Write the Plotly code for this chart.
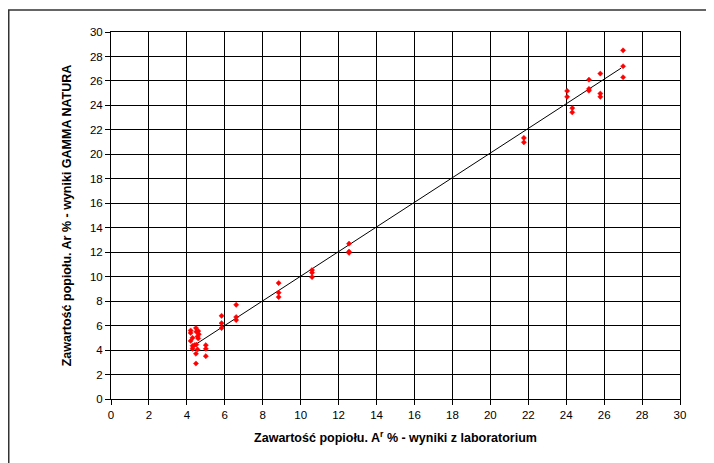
import plotly.graph_objects as go

# Laboratory results (x) vs GAMMA NATURA results (y)
lab_x = [4.2, 4.2, 4.48, 4.5, 4.6, 4.63, 4.56, 4.3, 4.2, 4.6, 4.4, 4.3, 4.5,
         5.0, 5.0, 4.3, 4.56, 4.48, 5.0, 4.48,
         5.83, 5.83, 5.83, 6.6, 6.6, 6.6,
         8.84, 8.84, 8.84, 10.6, 10.6, 10.6, 12.55, 12.55, 12.55,
         21.77, 21.77, 24.05, 24.05, 24.32, 24.32,
         25.2, 25.2, 25.2, 25.8, 25.8, 25.8, 27.0, 27.0, 27.0]
gamma_y = [5.6, 5.4, 5.8, 5.5, 5.55, 5.3, 5.1, 5.0, 4.75, 4.95, 4.4, 4.35, 4.45,
           4.4, 4.1, 4.1, 4.05, 3.7, 3.5, 2.9,
           6.8, 6.2, 5.8, 7.7, 6.7, 6.45,
           9.48, 8.69, 8.33, 10.54, 10.33, 9.97, 12.7, 12.05, 11.95,
           21.34, 20.98, 25.18, 24.7, 23.78, 23.43,
           26.1, 25.35, 25.2, 26.6, 24.97, 24.7, 28.5, 27.2, 26.3]

trend_x = [4.2, 26.9]
trend_y = [4.2, 27.05]

ticks = list(range(0, 31, 2))

fig = go.Figure()
fig.add_trace(go.Scatter(x=trend_x, y=trend_y, mode="lines",
                         line=dict(color="black", width=1), showlegend=False,
                         hoverinfo="skip"))
fig.add_trace(go.Scatter(x=lab_x, y=gamma_y, mode="markers",
                         marker=dict(symbol="diamond", size=4, color="#ff0000",
                                     line=dict(width=0.5, color="#ff0000")),
                         showlegend=False))

axis_common = dict(
    range=[0, 30], tickvals=ticks, ticktext=[str(t) for t in ticks],
    showgrid=True, gridcolor="black", gridwidth=1,
    showline=True, linecolor="black", linewidth=1, mirror=True,
    ticks="outside", ticklen=5, tickcolor="black", tickwidth=1,
    zeroline=False, tickfont=dict(family="Liberation Sans, Arial", size=11.5, color="black"),
)

L, T, W, H = 103, 24, 569, 367

fig.update_layout(
    width=714, height=463,
    margin=dict(l=L, r=714 - L - W, t=T, b=463 - T - H),
    paper_bgcolor="white", plot_bgcolor="white",
    font=dict(family="Liberation Sans, Arial", color="black"),
    xaxis=dict(**axis_common,
               title=dict(text="<b>Zawartość popiołu. A<sup>r</sup> % - wyniki z laboratorium</b>",
                          font=dict(size=12.5), standoff=13)),
    yaxis=dict(**axis_common,
               title=dict(text="<b>Zawartość popiołu. Ar % - wyniki GAMMA NATURA</b>",
                          font=dict(size=12.5), standoff=15)),
    shapes=[dict(type="rect", xref="paper", yref="paper",
                 x0=(0.75 - L) / W, x1=(740 - L) / W,
                 y0=(T + H - 480) / H, y1=(T + H - 2) / H,
                 line=dict(color="#333333", width=1.5), layer="below")],
)

fig.write_html("out.html")
